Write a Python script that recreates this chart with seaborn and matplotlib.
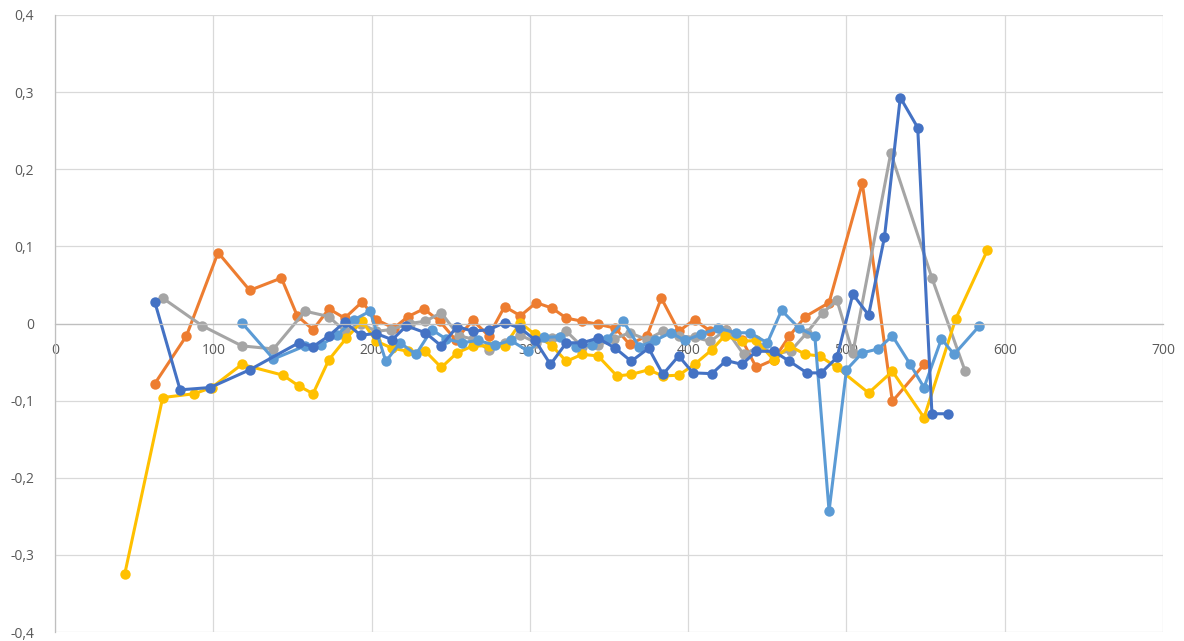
import pandas as pd
import matplotlib
matplotlib.use("Agg")
import matplotlib.pyplot as plt
import seaborn as sns

sns.set_style("white")
plt.rcParams['font.family'] = ['Open Sans', 'DejaVu Sans']

# series values
orange_x = [63, 83, 103, 123, 143, 153, 163, 173, 183, 194, 203, 214, 223, 233, 243, 253, 264, 274, 284, 294,
            304, 314, 323, 333, 343, 354, 363, 374, 383, 394, 404, 414, 424, 434, 443, 454, 464, 474, 489, 510,
            529, 549]
orange_y = [-0.078, -0.016, 0.092, 0.043, 0.059, 0.010, -0.008, 0.019, 0.007, 0.028, 0.005, -0.006, 0.009, 0.019,
            0.003, -0.021, 0.004, -0.016, 0.022, 0.010, 0.027, 0.020, 0.007, 0.003, -0.001, -0.006, -0.027, -0.016,
            0.033, -0.010, 0.005, -0.010, -0.008, -0.021, -0.057, -0.047, -0.016, 0.009, 0.027, 0.182, -0.101, -0.053]

gray_x = [68, 93, 118, 138, 158, 173, 183, 193, 203, 212, 224, 234, 244, 255, 264, 274, 284, 294, 304, 314,
          323, 333, 343, 353, 363, 374, 384, 394, 404, 414, 424, 435, 445, 455, 465, 475, 485, 494, 504, 528,
          554, 575]
gray_y = [0.033, -0.003, -0.029, -0.033, 0.016, 0.009, -0.010, 0.000, -0.010, -0.008, 0.000, 0.003, 0.014, -0.016,
          -0.020, -0.034, -0.025, -0.015, -0.025, -0.019, -0.010, -0.030, -0.028, -0.020, -0.012, -0.021, -0.010,
          -0.016, -0.018, -0.023, -0.008, -0.040, -0.030, -0.040, -0.035, -0.012, 0.014, 0.030, -0.038, 0.221,
          0.059, -0.062]

yellow_x = [44, 68, 88, 99, 118, 144, 154, 163, 173, 184, 194, 203, 213, 223, 234, 244, 254, 264, 274, 284,
            294, 303, 314, 323, 333, 343, 355, 364, 375, 384, 394, 404, 415, 423, 434, 443, 454, 464, 474, 483,
            494, 514, 529, 549, 569, 589]
yellow_y = [-0.325, -0.096, -0.091, -0.083, -0.053, -0.067, -0.081, -0.091, -0.047, -0.019, 0.003, -0.023, -0.032,
            -0.036, -0.036, -0.057, -0.038, -0.029, -0.029, -0.029, 0.001, -0.014, -0.029, -0.049, -0.040, -0.042,
            -0.068, -0.066, -0.060, -0.068, -0.067, -0.053, -0.034, -0.016, -0.023, -0.022, -0.047, -0.029, -0.040,
            -0.042, -0.057, -0.090, -0.062, -0.122, 0.006, 0.095]

lblue_x = [118, 138, 158, 168, 178, 189, 199, 209, 218, 228, 238, 247, 257, 267, 278, 288, 299, 309, 319, 329,
           339, 349, 359, 369, 379, 389, 398, 408, 419, 430, 439, 450, 459, 470, 480, 489, 500, 510, 520, 529,
           540, 549, 560, 568, 584]
lblue_y = [0.001, -0.046, -0.029, -0.028, -0.015, 0.005, 0.016, -0.049, -0.025, -0.040, -0.008, -0.020, -0.025,
           -0.022, -0.028, -0.022, -0.036, -0.018, -0.017, -0.030, -0.028, -0.020, 0.003, -0.030, -0.022, -0.012,
           -0.022, -0.014, -0.006, -0.012, -0.012, -0.025, 0.017, -0.006, -0.016, -0.243, -0.060, -0.038, -0.033,
           -0.016, -0.052, -0.083, -0.020, -0.040, -0.003]

blue_x = [63, 79, 98, 123, 154, 163, 173, 183, 193, 203, 213, 222, 234, 244, 254, 264, 274, 284, 294, 303,
          313, 323, 333, 343, 354, 364, 375, 384, 394, 403, 415, 424, 434, 443, 454, 464, 475, 484, 494, 504,
          514, 524, 534, 545, 554, 564]
blue_y = [0.028, -0.086, -0.083, -0.060, -0.025, -0.030, -0.016, 0.002, -0.015, -0.013, -0.021, -0.003, -0.012,
          -0.029, -0.004, -0.010, -0.008, 0.001, -0.006, -0.021, -0.053, -0.025, -0.025, -0.019, -0.032, -0.049,
          -0.032, -0.066, -0.042, -0.064, -0.065, -0.048, -0.053, -0.036, -0.036, -0.049, -0.064, -0.064, -0.044,
          0.038, 0.011, 0.112, 0.293, 0.254, -0.117, -0.117]

x_ticks = [0, 100, 200, 300, 400, 500, 600, 700]
y_ticks = [-0.4, -0.3, -0.2, -0.1, 0, 0.1, 0.2, 0.3, 0.4]
y_labels = ["-0,4", "-0,3", "-0,2", "-0,1", "0", "0,1", "0,2", "0,3", "0,4"]

series = [
    (orange_x, orange_y, "#ED7D31"),
    (gray_x, gray_y, "#A5A5A5"),
    (yellow_x, yellow_y, "#FFC000"),
    (lblue_x, lblue_y, "#5B9BD5"),
    (blue_x, blue_y, "#4472C4"),
]

fig = plt.figure(figsize=(11.84, 6.41), dpi=100)
ax = fig.add_axes([0.0465, 0.014, 0.9358, 0.9626])

for xs, ys, col in series:
    df = pd.DataFrame({"x": xs, "y": ys})
    sns.lineplot(data=df, x="x", y="y", ax=ax, color=col, sort=False, estimator=None,
                 marker="o", markersize=7.5, markeredgewidth=0, linewidth=2.2)

ax.set_xlim(0, 700)
ax.set_ylim(-0.4, 0.4)
ax.set_xticks(x_ticks)
ax.set_yticks(y_ticks)
ax.set_yticklabels(y_labels)
ax.set_xlabel("")
ax.set_ylabel("")

ax.grid(True, color="#D9D9D9", linewidth=0.9)
ax.set_axisbelow(True)
for s in ["top", "right"]:
    ax.spines[s].set_visible(False)
ax.spines["bottom"].set_position(("data", 0))
ax.spines["bottom"].set_color("#BFBFBF")
ax.spines["left"].set_color("#BFBFBF")
ax.spines["bottom"].set_linewidth(0.9)
ax.spines["left"].set_linewidth(0.9)
ax.tick_params(axis="x", length=0, pad=14, labelsize=10, labelcolor="#595959")
ax.tick_params(axis="y", length=0, pad=15, labelsize=10, labelcolor="#595959")
for lab in ax.get_yticklabels():
    lab.set_horizontalalignment("right")

fig.savefig("out.png", dpi=100)
